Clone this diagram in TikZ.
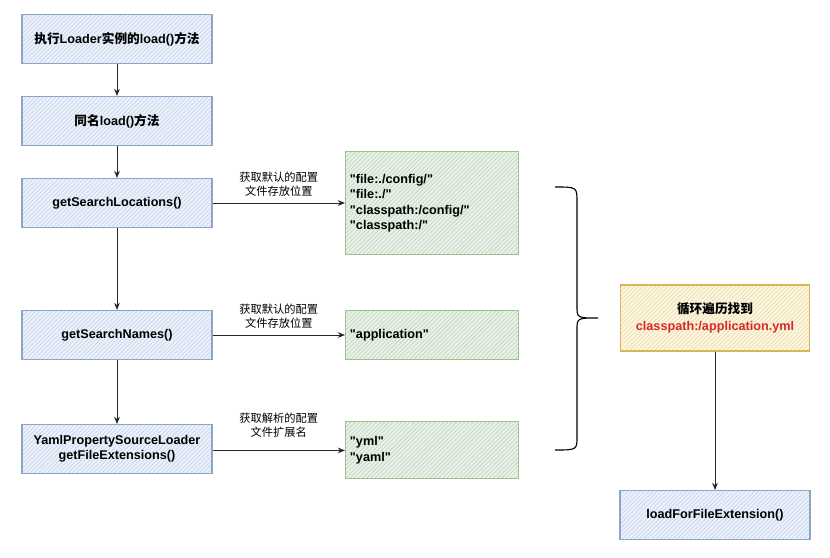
\documentclass[tikz,border=0pt]{standalone}
\usepackage{fontspec}
\setmainfont{Liberation Sans}[Ligatures=TeXOff]
\newfontfamily\cjk{Noto Sans CJK SC}
\usepackage{xcolor}
\usetikzlibrary{arrows.meta,patterns}

\definecolor{bluefill}{HTML}{DAE8FC}
\definecolor{bluedraw}{HTML}{8DA6C8}
\definecolor{greenfill}{HTML}{D5E8D4}
\definecolor{greendraw}{HTML}{9CC38A}
\definecolor{yellowfill}{HTML}{FFF2CC}
\definecolor{yellowdraw}{HTML}{D6B656}
\definecolor{hitred}{HTML}{D42A2A}

\newcommand{\zh}[1]{{\cjk #1}}

\begin{document}
\begin{tikzpicture}[
    x=0.025cm, y=-0.025cm,
    font=\bfseries\fontsize{9}{11}\selectfont,
    >={Stealth[length=1.8mm,width=1.4mm]},
    step box/.style ={draw=bluedraw, line width=0.8pt, preaction={fill=bluefill!55},
                      pattern=north east lines, pattern color=bluefill!90!black,
                      minimum width=4.75cm, minimum height=1.22cm,
                      align=center, inner sep=2pt},
    value box/.style={draw=greendraw, line width=0.8pt, preaction={fill=greenfill!55},
                      pattern=north east lines, pattern color=greenfill!90!black,
                      minimum width=4.32cm, text width=4.1cm,
                      align=left, inner sep=3pt},
    hit box/.style  ={draw=yellowdraw, line width=0.8pt, preaction={fill=yellowfill!70},
                      pattern=north east lines, pattern color=yellowfill!90!black,
                      minimum width=4.72cm, minimum height=1.65cm,
                      align=center, inner sep=2pt},
    note/.style     ={font=\cjk\fontsize{8}{10}\selectfont, align=center, inner sep=1pt},
    flow/.style     ={->, line width=0.7pt, draw=black!85}
]
\useasboundingbox (0,0) rectangle (830,558);

% --- left column: call chain ---
\node[step box] (exec)     at (117, 39)  {\zh{执行}Loader\zh{实例的}load()\zh{方法}};
\node[step box] (sameload) at (117,121)  {\zh{同名}load()\zh{方法}};
\node[step box] (locs)     at (117,203)  {getSearchLocations()};
\node[step box] (names)    at (117,335)  {getSearchNames()};
\node[step box] (exts)     at (117,449)  {YamlPropertySourceLoader\\getFileExtensions()};

% --- middle column: returned values ---
\node[value box, minimum height=2.57cm] (locvals)  at (432,203)
  {"file:./config/"\\"file:./"\\"classpath:/config/"\\"classpath:/"};
\node[value box, minimum height=1.22cm] (namevals) at (432,335) {"application"};
\node[value box, minimum height=1.42cm] (extvals)  at (432,450) {"yml"\\"yaml"};

% --- right column ---
\node[hit box] (found) at (715,318)
  {\zh{循环遍历找到}\\[1pt]\textcolor{hitred}{classpath:/application.yml}};
\node[step box] (loadext) at (715,515) {loadForFileExtension()};

% --- vertical chain ---
\draw[flow] (exec)     -- (sameload);
\draw[flow] (sameload) -- (locs);
\draw[flow] (locs)     -- (names);
\draw[flow] (names)    -- (exts);
\draw[flow] (found)    -- (loadext);

% --- calls to values ---
\draw[flow] (locs)  -- node[note, above=3pt] {获取默认的配置\\文件存放位置} (locvals);
\draw[flow] (names) -- node[note, above=3pt] {获取默认的配置\\文件存放位置} (namevals);
\draw[flow] ([yshift=-1pt]exts.east) -- node[note, above=8pt] {获取解析的配置\\文件扩展名} ([yshift=-1pt]exts.east -| extvals.west);

% --- brace grouping the values ---
\draw[line width=0.8pt] (555,187) .. controls (577,187) .. (577,202) -- (577,306)
  .. controls (577,318) .. (598,318)
  .. controls (577,318) .. (577,330) -- (577,436)
  .. controls (577,450) .. (555,450);

\end{tikzpicture}
\end{document}
